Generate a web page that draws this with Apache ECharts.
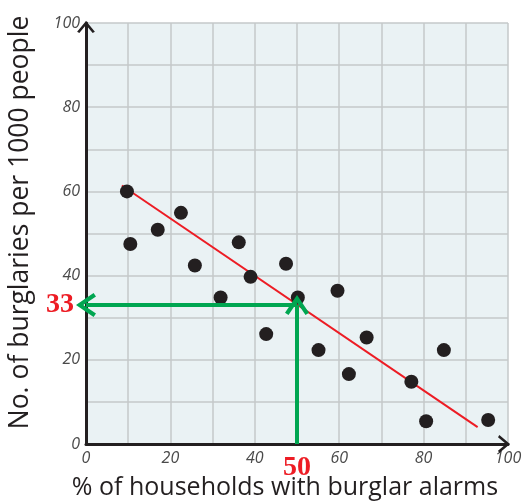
<!DOCTYPE html>
<html><head><meta charset="utf-8">
<script src="https://cdn.jsdelivr.net/npm/echarts@6/dist/echarts.min.js"></script>
<style>html,body{margin:0;padding:0;background:#fff}#c{width:526px;height:502px}</style>
</head><body><div id="c"></div>
<script>
const xValues = [9.7, 10.5, 17.0, 22.5, 25.8, 31.9, 36.2, 39.0, 42.7, 47.4, 50.2, 55.1, 59.6, 62.3, 66.5, 77.1, 80.6, 84.8, 95.3];
const yValues = [60, 47.5, 50.9, 54.9, 42.4, 34.8, 47.9, 39.7, 26.1, 42.8, 34.8, 22.3, 36.4, 16.6, 25.3, 14.8, 5.4, 22.3, 5.7];
const trendX = [8.5, 92.8];
const trendY = [61.4, 4.0];
const readX = 50;
const readY = 33;
const xTitle = '% of households with burglar alarms';
const yTitle = 'No. of burglaries per 1000 people';

const chevron = 'path://M0,18 L12,0 L24,18 L20.5,20.5 L12,7.5 L3.5,20.5 Z';
const axisChevron = 'path://M0,12 L10,0 L20,12 L17.5,13.5 L10,4.5 L2.5,13.5 Z';
const tickFont = {fontFamily: 'Open Sans', fontStyle: 'italic', fontSize: 16, color: '#4a4a4a'};
const readFont = {fontFamily: 'Liberation Serif', fontWeight: 'bold', fontSize: 28, color: '#ed1c24'};

const chart = echarts.init(document.getElementById('c'));
chart.setOption({
  animation: false,
  grid: {left: 86, right: 18, top: 23, bottom: 58, show: true, backgroundColor: '#eaf2f4', borderWidth: 0, outerBoundsMode: 'none', containLabel: false},
  xAxis: {
    type: 'value', min: 0, max: 100, interval: 10,
    name: xTitle, nameLocation: 'middle', nameGap: 31,
    nameTextStyle: {fontFamily: 'Open Sans', fontSize: 25, color: '#231f20', padding: [0, 24, 0, 0]},
    axisLine: {lineStyle: {color: '#231f20', width: 3}, symbol: ['none', axisChevron], symbolSize: [18, 12], symbolOffset: [0, -4]},
    axisTick: {show: false},
    axisLabel: Object.assign({margin: 6, formatter: v => (v % 20 === 0 ? String(v) : '')}, tickFont),
    splitLine: {lineStyle: {color: '#c4c8ca', width: 1.5}}
  },
  yAxis: {
    type: 'value', min: 0, max: 100, interval: 10,
    name: yTitle, nameLocation: 'middle', nameGap: 52,
    nameTextStyle: {fontFamily: 'Open Sans', fontSize: 26.5, color: '#231f20', padding: [0, 0, 0, 22]},
    axisLine: {lineStyle: {color: '#231f20', width: 3}, symbol: ['none', axisChevron], symbolSize: [18, 12], symbolOffset: [0, -4]},
    axisTick: {show: false},
    axisLabel: Object.assign({margin: 6, formatter: v => (v % 20 === 0 ? String(v) : '')}, tickFont),
    splitLine: {lineStyle: {color: '#c4c8ca', width: 1.5}}
  },
  series: [
    {
      type: 'line',
      data: trendX.map((x, i) => [x, trendY[i]]),
      showSymbol: false, symbol: 'none',
      lineStyle: {color: '#ed1c24', width: 2},
      z: 3,
      markLine: {
        silent: true,
        symbol: ['none', chevron],
        symbolSize: [24, 20],
        lineStyle: {color: '#00a651', width: 4, type: 'solid'},
        data: [
          [
            {coord: [readX, readY], label: Object.assign({show: true, position: 'end', formatter: String(readY), distance: 12}, readFont)},
            {coord: [0, readY]}
          ],
          [
            {coord: [readX, 0], label: Object.assign({show: true, position: 'start', formatter: String(readX), distance: 10}, readFont)},
            {coord: [readX, readY]}
          ]
        ]
      }
    },
    {
      type: 'scatter',
      data: xValues.map((x, i) => [x, yValues[i]]),
      symbolSize: 14,
      itemStyle: {color: '#231f20', opacity: 1},
      z: 4
    }
  ]
});
</script></body></html>
